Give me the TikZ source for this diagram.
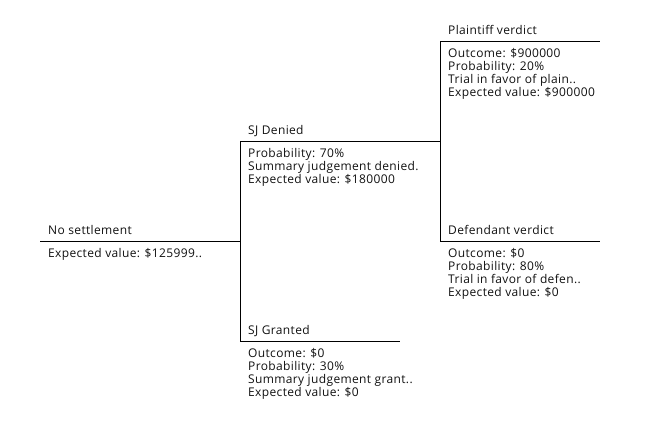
\documentclass[tikz,border=0pt]{standalone}
\usepackage{fontspec}
\setmainfont{Open Sans}[LetterSpace=3]
\definecolor{txt}{HTML}{111111}
\begin{document}
\begin{tikzpicture}[x=1pt,y=-1pt,
  branch/.style={line width=0.9pt, black},
  lbl/.style={anchor=base west, inner sep=0pt, text=txt, font=\fontsize{12}{13}\selectfont}]
\useasboundingbox (0,0) rectangle (647,431);
% junction coordinates
\coordinate (r0) at (40,241);
\coordinate (j1) at (240,241);
\coordinate (sd0) at (240,141);
\coordinate (sg0) at (240,341);
\coordinate (sg1) at (400,341);
\coordinate (sd1) at (440,141);
\coordinate (pv0) at (440,41);
\coordinate (pv1) at (600,41);
\coordinate (dv0) at (440,241);
\coordinate (dv1) at (600,241);
% connectors
\draw[branch] (r0) -- (j1);
\draw[branch] (sd0) -- (sg0);
\draw[branch] (sd0) -- (sd1);
\draw[branch] (sg0) -- (sg1);
\draw[branch] (pv0) -- (dv0);
\draw[branch] (pv0) -- (pv1);
\draw[branch] (dv0) -- (dv1);
% root
\node[lbl] (rt) at (48,234) {No settlement};
\node[lbl] (rb1) at (48,257.5) {Expected value: \$125999..};
% SJ Denied
\node[lbl] (sdt) at (248,134) {SJ Denied};
\node[lbl] (sdb1) at (248,157.5) {Probability: 70\%};
\node[lbl] (sdb2) at (248,170.5) {Summary judgement denied.};
\node[lbl] (sdb3) at (248,183.5) {Expected value: \$180000};
% SJ Granted
\node[lbl] (sgt) at (248,334) {SJ Granted};
\node[lbl] (sgb1) at (248,357.5) {Outcome: \$0};
\node[lbl] (sgb2) at (248,370.5) {Probability: 30\%};
\node[lbl] (sgb3) at (248,383.5) {Summary judgement grant..};
\node[lbl] (sgb4) at (248,396.5) {Expected value: \$0};
% Plaintiff verdict
\node[lbl] (pvt) at (448,34) {Plaintiff verdict};
\node[lbl] (pvb1) at (448,57.5) {Outcome: \$900000};
\node[lbl] (pvb2) at (448,70.5) {Probability: 20\%};
\node[lbl] (pvb3) at (448,83.5) {Trial in favor of plain..};
\node[lbl] (pvb4) at (448,96.5) {Expected value: \$900000};
% Defendant verdict
\node[lbl] (dvt) at (448,234) {Defendant verdict};
\node[lbl] (dvb1) at (448,257.5) {Outcome: \$0};
\node[lbl] (dvb2) at (448,270.5) {Probability: 80\%};
\node[lbl] (dvb3) at (448,283.5) {Trial in favor of defen..};
\node[lbl] (dvb4) at (448,296.5) {Expected value: \$0};
\end{tikzpicture}
\end{document}
